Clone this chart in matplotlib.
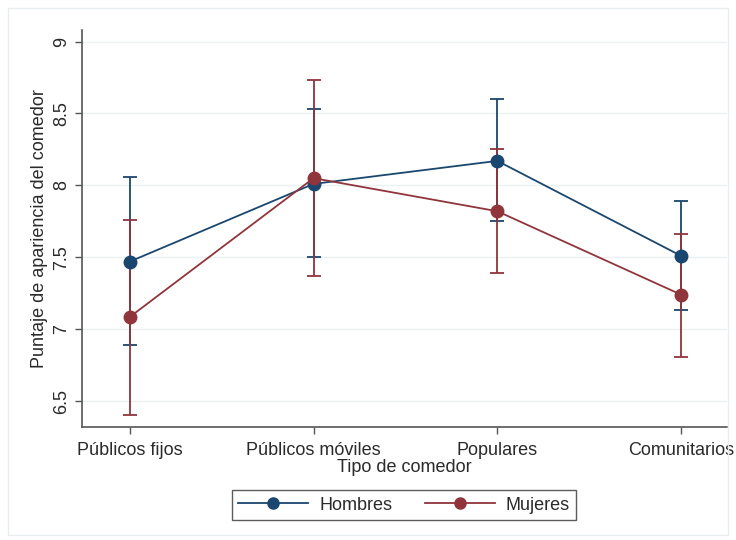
import matplotlib
matplotlib.use("Agg")
import matplotlib.pyplot as plt
from matplotlib.lines import Line2D
import numpy as np

plt.rcParams['font.family'] = ['Liberation Sans', 'DejaVu Sans']

categories = ["Públicos fijos", "Públicos móviles", "Populares", "Comunitarios"]
hombres = [7.47, 8.01, 8.17, 7.51]
hombres_lo = [6.89, 7.50, 7.75, 7.13]
hombres_hi = [8.06, 8.53, 8.60, 7.89]
mujeres = [7.085, 8.05, 7.82, 7.24]
mujeres_lo = [6.40, 7.37, 7.39, 6.81]
mujeres_hi = [7.76, 8.73, 8.25, 7.66]
yticks = [6.5, 7, 7.5, 8, 8.5, 9]
ytick_labels = ["6.5", "7", "7.5", "8", "8.5", "9"]

c_h = "#1a476f"
c_m = "#90353b"
fs = 13
tc = "#2a2a2a"

fig = plt.figure(figsize=(7.36, 5.4), dpi=100)
fig.patch.set_facecolor("white")
# outer faint frame
fig.add_artist(plt.Rectangle((8/736, 5/540), 720/736, 527/540, transform=fig.transFigure,
                             fill=False, edgecolor="#e8eef0", linewidth=1))
ax = fig.add_axes([82/736, 1-427/540, (727-82)/736, (427-30)/540])
x = np.arange(len(categories))

for vals, lo, hi, col in [(hombres, hombres_lo, hombres_hi, c_h), (mujeres, mujeres_lo, mujeres_hi, c_m)]:
    vals = np.array(vals); lo = np.array(lo); hi = np.array(hi)
    ax.errorbar(x, vals, yerr=[vals-lo, hi-vals], fmt='none', ecolor=col, elinewidth=1.3,
                capsize=5, capthick=1.3, zorder=3)
for vals, col in [(hombres, c_h), (mujeres, c_m)]:
    ax.plot(x, vals, color=col, linewidth=1.3, marker='o', markersize=9, zorder=4)

ax.set_xlim(-0.26, 3.25)
ax.set_ylim(6.32, 9.08)
ax.set_yticks(yticks)
ax.set_yticklabels(ytick_labels, rotation=90, va='center', fontsize=fs)
ax.set_xticks(x)
ax.set_xticklabels(categories, fontsize=fs)
ax.grid(axis='y', color="#eaf2f3", linewidth=1)
ax.set_axisbelow(True)
for s in ['top', 'right']:
    ax.spines[s].set_visible(False)
for s in ['left', 'bottom']:
    ax.spines[s].set_color("#555555")
    ax.spines[s].set_linewidth(1.2)
ax.tick_params(axis='both', colors="#555555", labelcolor=tc, length=5, width=1)
ax.tick_params(axis='x', pad=6)
ax.set_xlabel("Tipo de comedor", fontsize=fs, color=tc, labelpad=0)
ax.set_ylabel("Puntaje de apariencia del comedor", fontsize=fs, color=tc, labelpad=4)

handles = [Line2D([0], [0], color=c_h, marker='o', markersize=8, linewidth=1.3),
           Line2D([0], [0], color=c_m, marker='o', markersize=8, linewidth=1.3)]
leg = fig.legend(handles, ["Hombres", "Mujeres"], loc='center', bbox_to_anchor=(404/736, 1-505/540),
                 ncol=2, fontsize=fs, frameon=True, fancybox=False, edgecolor="#333333",
                 handlelength=3.9, handletextpad=0.6, columnspacing=1.8, borderpad=0.35)
leg.get_frame().set_linewidth(1)
for t in leg.get_texts():
    t.set_color(tc)

fig.savefig("out.png", dpi=100, facecolor="white")
